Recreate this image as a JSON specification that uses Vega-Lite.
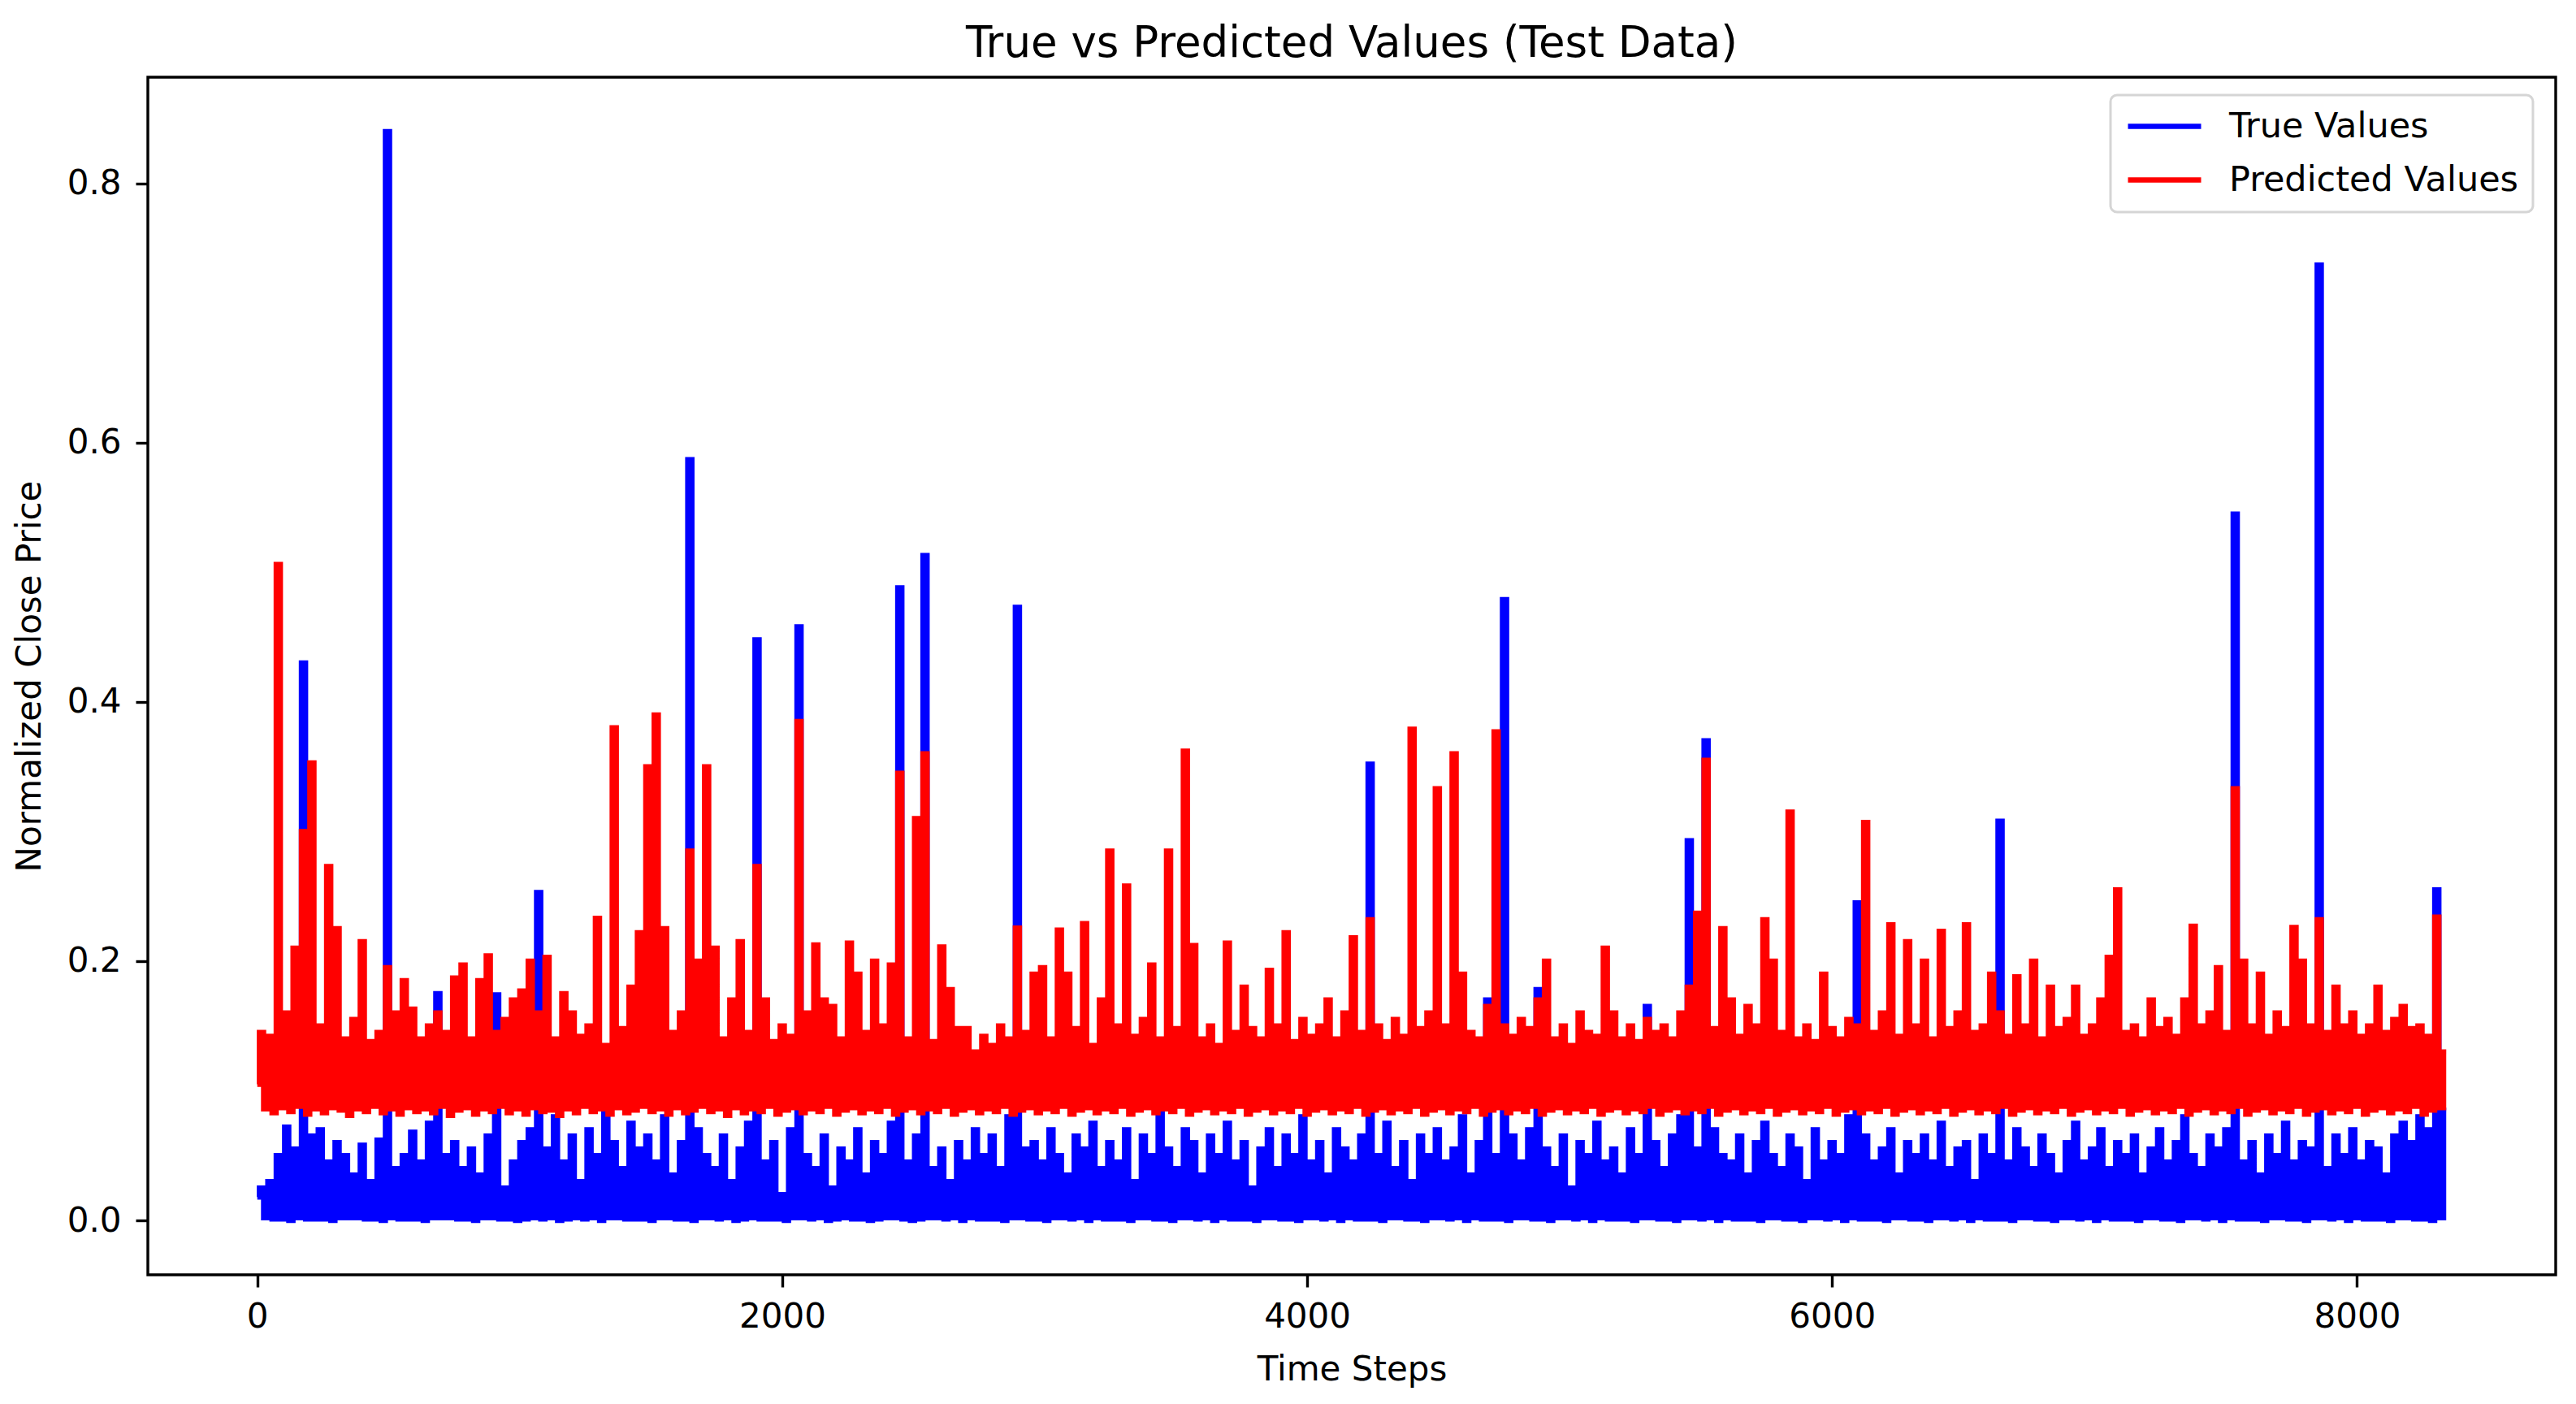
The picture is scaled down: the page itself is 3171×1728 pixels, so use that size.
{
  "$schema": "https://vega.github.io/schema/vega-lite/v6.json",
  "width": 2964,
  "height": 1474,
  "autosize": {"type": "none"},
  "padding": {"left": 182, "top": 95, "right": 25, "bottom": 159},
  "background": "white",
  "config": {
    "font": "DejaVu Sans",
    "view": {"stroke": "black", "strokeWidth": 3.4},
    "legend": {"strokeWidth": 3},
    "axis": {
      "grid": false,
      "domain": false,
      "tickColor": "black",
      "tickWidth": 3.4,
      "tickSize": 15,
      "labelFont": "DejaVu Sans",
      "labelFontSize": 42,
      "labelColor": "black",
      "titleFont": "DejaVu Sans",
      "titleFontSize": 42,
      "titleFontWeight": "normal",
      "titleColor": "black"
    }
  },
  "title": {
    "text": "True vs Predicted Values (Test Data)",
    "font": "DejaVu Sans",
    "fontSize": 53,
    "fontWeight": "normal",
    "color": "black",
    "anchor": "middle",
    "offset": 14
  },
  "data": {
    "values": [
      {"t":0,"a":0.018,"b":0.105},{"t":16,"a":0.025,"b":0.145},
      {"t":32,"a":0.002,"b":0.086},{"t":48,"a":0.03,"b":0.142},
      {"t":64,"a":0.001,"b":0.083},{"t":80,"a":0.05,"b":0.506},
      {"t":96,"a":0.001,"b":0.087},{"t":112,"a":0.072,"b":0.16},
      {"t":128,"a":0.0,"b":0.084},{"t":144,"a":0.055,"b":0.21},
      {"t":160,"a":0.002,"b":0.088},{"t":176,"a":0.43,"b":0.30},
      {"t":192,"a":0.001,"b":0.082},{"t":208,"a":0.065,"b":0.353},
      {"t":224,"a":0.001,"b":0.086},{"t":240,"a":0.07,"b":0.15},
      {"t":256,"a":0.001,"b":0.083},{"t":272,"a":0.045,"b":0.273},
      {"t":288,"a":0.0,"b":0.087},{"t":304,"a":0.06,"b":0.225},
      {"t":320,"a":0.002,"b":0.085},{"t":336,"a":0.05,"b":0.14},
      {"t":352,"a":0.002,"b":0.081},{"t":368,"a":0.035,"b":0.155},
      {"t":384,"a":0.002,"b":0.086},{"t":400,"a":0.058,"b":0.215},
      {"t":416,"a":0.001,"b":0.084},{"t":432,"a":0.03,"b":0.138},
      {"t":448,"a":0.001,"b":0.088},{"t":464,"a":0.062,"b":0.145},
      {"t":480,"a":0.0,"b":0.083},{"t":496,"a":0.84,"b":0.195},
      {"t":512,"a":0.002,"b":0.086},{"t":528,"a":0.04,"b":0.16},
      {"t":544,"a":0.001,"b":0.082},{"t":560,"a":0.05,"b":0.185},
      {"t":576,"a":0.001,"b":0.087},{"t":592,"a":0.068,"b":0.163},
      {"t":608,"a":0.001,"b":0.084},{"t":624,"a":0.045,"b":0.14},
      {"t":640,"a":0.0,"b":0.086},{"t":656,"a":0.075,"b":0.15},
      {"t":672,"a":0.002,"b":0.083},{"t":688,"a":0.175,"b":0.16},
      {"t":704,"a":0.002,"b":0.088},{"t":720,"a":0.05,"b":0.145},
      {"t":736,"a":0.002,"b":0.081},{"t":752,"a":0.06,"b":0.187},
      {"t":768,"a":0.001,"b":0.085},{"t":784,"a":0.04,"b":0.197},
      {"t":800,"a":0.001,"b":0.087},{"t":816,"a":0.055,"b":0.14},
      {"t":832,"a":0.0,"b":0.082},{"t":848,"a":0.035,"b":0.185},
      {"t":864,"a":0.002,"b":0.086},{"t":880,"a":0.065,"b":0.204},
      {"t":896,"a":0.002,"b":0.084},{"t":912,"a":0.174,"b":0.145},
      {"t":928,"a":0.001,"b":0.088},{"t":944,"a":0.025,"b":0.155},
      {"t":960,"a":0.001,"b":0.083},{"t":976,"a":0.045,"b":0.17},
      {"t":992,"a":0.0,"b":0.086},{"t":1008,"a":0.06,"b":0.177},
      {"t":1024,"a":0.001,"b":0.082},{"t":1040,"a":0.07,"b":0.2},
      {"t":1056,"a":0.002,"b":0.087},{"t":1072,"a":0.253,"b":0.16},
      {"t":1088,"a":0.001,"b":0.084},{"t":1104,"a":0.055,"b":0.203},
      {"t":1120,"a":0.002,"b":0.085},{"t":1136,"a":0.08,"b":0.14},
      {"t":1152,"a":0.0,"b":0.081},{"t":1168,"a":0.045,"b":0.175},
      {"t":1184,"a":0.001,"b":0.086},{"t":1200,"a":0.065,"b":0.16},
      {"t":1216,"a":0.002,"b":0.083},{"t":1232,"a":0.03,"b":0.142},
      {"t":1248,"a":0.001,"b":0.088},{"t":1264,"a":0.07,"b":0.15},
      {"t":1280,"a":0.002,"b":0.084},{"t":1296,"a":0.05,"b":0.233},
      {"t":1312,"a":0.0,"b":0.086},{"t":1328,"a":0.085,"b":0.135},
      {"t":1344,"a":0.002,"b":0.082},{"t":1360,"a":0.06,"b":0.38},
      {"t":1376,"a":0.002,"b":0.087},{"t":1392,"a":0.04,"b":0.148},
      {"t":1408,"a":0.001,"b":0.083},{"t":1424,"a":0.075,"b":0.18},
      {"t":1440,"a":0.001,"b":0.085},{"t":1456,"a":0.055,"b":0.222},
      {"t":1472,"a":0.001,"b":0.088},{"t":1488,"a":0.065,"b":0.35},
      {"t":1504,"a":0.0,"b":0.084},{"t":1520,"a":0.045,"b":0.39},
      {"t":1536,"a":0.002,"b":0.086},{"t":1552,"a":0.08,"b":0.225},
      {"t":1568,"a":0.002,"b":0.082},{"t":1584,"a":0.035,"b":0.145},
      {"t":1600,"a":0.001,"b":0.087},{"t":1616,"a":0.06,"b":0.16},
      {"t":1632,"a":0.001,"b":0.083},{"t":1648,"a":0.587,"b":0.285},
      {"t":1664,"a":0.0,"b":0.085},{"t":1680,"a":0.07,"b":0.2},
      {"t":1696,"a":0.002,"b":0.088},{"t":1712,"a":0.05,"b":0.35},
      {"t":1728,"a":0.002,"b":0.084},{"t":1744,"a":0.04,"b":0.21},
      {"t":1760,"a":0.001,"b":0.086},{"t":1776,"a":0.065,"b":0.14},
      {"t":1792,"a":0.002,"b":0.081},{"t":1808,"a":0.03,"b":0.17},
      {"t":1824,"a":0.0,"b":0.087},{"t":1840,"a":0.055,"b":0.215},
      {"t":1856,"a":0.001,"b":0.083},{"t":1872,"a":0.075,"b":0.145},
      {"t":1888,"a":0.002,"b":0.086},{"t":1904,"a":0.448,"b":0.273},
      {"t":1920,"a":0.001,"b":0.084},{"t":1936,"a":0.045,"b":0.17},
      {"t":1952,"a":0.001,"b":0.088},{"t":1968,"a":0.06,"b":0.138},
      {"t":1984,"a":0.001,"b":0.082},{"t":2000,"a":0.02,"b":0.15},
      {"t":2016,"a":0.0,"b":0.085},{"t":2032,"a":0.07,"b":0.142},
      {"t":2048,"a":0.002,"b":0.087},{"t":2064,"a":0.458,"b":0.385},
      {"t":2080,"a":0.002,"b":0.083},{"t":2096,"a":0.05,"b":0.16},
      {"t":2112,"a":0.001,"b":0.086},{"t":2128,"a":0.04,"b":0.2125},
      {"t":2144,"a":0.002,"b":0.084},{"t":2160,"a":0.065,"b":0.17},
      {"t":2176,"a":0.0,"b":0.088},{"t":2192,"a":0.025,"b":0.165},
      {"t":2208,"a":0.001,"b":0.082},{"t":2224,"a":0.055,"b":0.14},
      {"t":2240,"a":0.002,"b":0.085},{"t":2256,"a":0.045,"b":0.214},
      {"t":2272,"a":0.001,"b":0.087},{"t":2288,"a":0.07,"b":0.19},
      {"t":2304,"a":0.001,"b":0.083},{"t":2320,"a":0.035,"b":0.145},
      {"t":2336,"a":0.0,"b":0.086},{"t":2352,"a":0.06,"b":0.2},
      {"t":2368,"a":0.001,"b":0.084},{"t":2384,"a":0.05,"b":0.15},
      {"t":2400,"a":0.002,"b":0.088},{"t":2416,"a":0.075,"b":0.197},
      {"t":2432,"a":0.002,"b":0.082},{"t":2448,"a":0.488,"b":0.345},
      {"t":2464,"a":0.001,"b":0.085},{"t":2480,"a":0.045,"b":0.14},
      {"t":2496,"a":0.0,"b":0.087},{"t":2512,"a":0.065,"b":0.31},
      {"t":2528,"a":0.001,"b":0.083},{"t":2544,"a":0.513,"b":0.36},
      {"t":2560,"a":0.002,"b":0.086},{"t":2576,"a":0.04,"b":0.138},
      {"t":2592,"a":0.002,"b":0.084},{"t":2608,"a":0.055,"b":0.211},
      {"t":2624,"a":0.001,"b":0.088},{"t":2640,"a":0.03,"b":0.178},
      {"t":2656,"a":0.002,"b":0.082},{"t":2672,"a":0.06,"b":0.148},
      {"t":2688,"a":0.0,"b":0.085},{"t":2704,"a":0.045,"b":0.148},
      {"t":2720,"a":0.002,"b":0.087},{"t":2736,"a":0.07,"b":0.13},
      {"t":2752,"a":0.001,"b":0.083},{"t":2768,"a":0.05,"b":0.142},
      {"t":2784,"a":0.001,"b":0.086},{"t":2800,"a":0.065,"b":0.135},
      {"t":2816,"a":0.001,"b":0.084},{"t":2832,"a":0.04,"b":0.15},
      {"t":2848,"a":0.0,"b":0.088},{"t":2864,"a":0.08,"b":0.14},
      {"t":2880,"a":0.002,"b":0.082},{"t":2896,"a":0.473,"b":0.2255},
      {"t":2912,"a":0.002,"b":0.085},{"t":2928,"a":0.055,"b":0.145},
      {"t":2944,"a":0.001,"b":0.087},{"t":2960,"a":0.06,"b":0.19},
      {"t":2976,"a":0.001,"b":0.083},{"t":2992,"a":0.045,"b":0.195},
      {"t":3008,"a":0.0,"b":0.086},{"t":3024,"a":0.07,"b":0.14},
      {"t":3040,"a":0.002,"b":0.084},{"t":3056,"a":0.05,"b":0.224},
      {"t":3072,"a":0.002,"b":0.088},{"t":3088,"a":0.035,"b":0.19},
      {"t":3104,"a":0.001,"b":0.082},{"t":3120,"a":0.065,"b":0.148},
      {"t":3136,"a":0.002,"b":0.085},{"t":3152,"a":0.055,"b":0.229},
      {"t":3168,"a":0.0,"b":0.087},{"t":3184,"a":0.075,"b":0.135},
      {"t":3200,"a":0.002,"b":0.083},{"t":3216,"a":0.04,"b":0.17},
      {"t":3232,"a":0.001,"b":0.086},{"t":3248,"a":0.06,"b":0.285},
      {"t":3264,"a":0.001,"b":0.084},{"t":3280,"a":0.045,"b":0.15},
      {"t":3296,"a":0.001,"b":0.088},{"t":3312,"a":0.07,"b":0.258},
      {"t":3328,"a":0.0,"b":0.082},{"t":3344,"a":0.03,"b":0.142},
      {"t":3360,"a":0.002,"b":0.085},{"t":3376,"a":0.065,"b":0.155},
      {"t":3392,"a":0.002,"b":0.087},{"t":3408,"a":0.05,"b":0.197},
      {"t":3424,"a":0.001,"b":0.083},{"t":3440,"a":0.085,"b":0.14},
      {"t":3456,"a":0.001,"b":0.086},{"t":3472,"a":0.055,"b":0.285},
      {"t":3488,"a":0.0,"b":0.084},{"t":3504,"a":0.04,"b":0.148},
      {"t":3520,"a":0.002,"b":0.088},{"t":3536,"a":0.07,"b":0.362},
      {"t":3552,"a":0.002,"b":0.082},{"t":3568,"a":0.06,"b":0.212},
      {"t":3584,"a":0.001,"b":0.085},{"t":3600,"a":0.035,"b":0.14},
      {"t":3616,"a":0.002,"b":0.087},{"t":3632,"a":0.065,"b":0.15},
      {"t":3648,"a":0.0,"b":0.083},{"t":3664,"a":0.05,"b":0.135},
      {"t":3680,"a":0.002,"b":0.086},{"t":3696,"a":0.075,"b":0.214},
      {"t":3712,"a":0.001,"b":0.084},{"t":3728,"a":0.045,"b":0.145},
      {"t":3744,"a":0.001,"b":0.088},{"t":3760,"a":0.06,"b":0.18},
      {"t":3776,"a":0.001,"b":0.082},{"t":3792,"a":0.025,"b":0.148},
      {"t":3808,"a":0.0,"b":0.085},{"t":3824,"a":0.055,"b":0.14},
      {"t":3840,"a":0.002,"b":0.087},{"t":3856,"a":0.07,"b":0.193},
      {"t":3872,"a":0.002,"b":0.083},{"t":3888,"a":0.04,"b":0.15},
      {"t":3904,"a":0.001,"b":0.086},{"t":3920,"a":0.065,"b":0.222},
      {"t":3936,"a":0.001,"b":0.084},{"t":3952,"a":0.05,"b":0.138},
      {"t":3968,"a":0.0,"b":0.088},{"t":3984,"a":0.08,"b":0.155},
      {"t":4000,"a":0.002,"b":0.082},{"t":4016,"a":0.045,"b":0.142},
      {"t":4032,"a":0.002,"b":0.085},{"t":4048,"a":0.06,"b":0.15},
      {"t":4064,"a":0.001,"b":0.087},{"t":4080,"a":0.035,"b":0.17},
      {"t":4096,"a":0.002,"b":0.083},{"t":4112,"a":0.07,"b":0.14},
      {"t":4128,"a":0.0,"b":0.086},{"t":4144,"a":0.055,"b":0.16},
      {"t":4160,"a":0.002,"b":0.084},{"t":4176,"a":0.045,"b":0.218},
      {"t":4192,"a":0.001,"b":0.088},{"t":4208,"a":0.065,"b":0.145},
      {"t":4224,"a":0.001,"b":0.082},{"t":4240,"a":0.352,"b":0.232},
      {"t":4256,"a":0.001,"b":0.085},{"t":4272,"a":0.05,"b":0.15},
      {"t":4288,"a":0.0,"b":0.087},{"t":4304,"a":0.075,"b":0.138},
      {"t":4320,"a":0.002,"b":0.083},{"t":4336,"a":0.04,"b":0.155},
      {"t":4352,"a":0.002,"b":0.086},{"t":4368,"a":0.06,"b":0.142},
      {"t":4384,"a":0.001,"b":0.084},{"t":4400,"a":0.03,"b":0.379},
      {"t":4416,"a":0.001,"b":0.088},{"t":4432,"a":0.065,"b":0.148},
      {"t":4448,"a":0.0,"b":0.082},{"t":4464,"a":0.05,"b":0.16},
      {"t":4480,"a":0.002,"b":0.085},{"t":4496,"a":0.07,"b":0.333},
      {"t":4512,"a":0.002,"b":0.087},{"t":4528,"a":0.045,"b":0.15},
      {"t":4544,"a":0.001,"b":0.083},{"t":4560,"a":0.055,"b":0.36},
      {"t":4576,"a":0.002,"b":0.086},{"t":4592,"a":0.08,"b":0.19},
      {"t":4608,"a":0.0,"b":0.084},{"t":4624,"a":0.035,"b":0.145},
      {"t":4640,"a":0.002,"b":0.088},{"t":4656,"a":0.06,"b":0.14},
      {"t":4672,"a":0.001,"b":0.082},{"t":4688,"a":0.17,"b":0.165},
      {"t":4704,"a":0.001,"b":0.085},{"t":4720,"a":0.05,"b":0.377},
      {"t":4736,"a":0.001,"b":0.087},{"t":4752,"a":0.479,"b":0.15},
      {"t":4768,"a":0.0,"b":0.083},{"t":4784,"a":0.065,"b":0.142},
      {"t":4800,"a":0.002,"b":0.086},{"t":4816,"a":0.045,"b":0.155},
      {"t":4832,"a":0.002,"b":0.084},{"t":4848,"a":0.07,"b":0.148},
      {"t":4864,"a":0.001,"b":0.088},{"t":4880,"a":0.178,"b":0.17},
      {"t":4896,"a":0.001,"b":0.082},{"t":4912,"a":0.055,"b":0.2},
      {"t":4928,"a":0.0,"b":0.085},{"t":4944,"a":0.04,"b":0.14},
      {"t":4960,"a":0.002,"b":0.087},{"t":4976,"a":0.065,"b":0.15},
      {"t":4992,"a":0.002,"b":0.083},{"t":5008,"a":0.025,"b":0.135},
      {"t":5024,"a":0.001,"b":0.086},{"t":5040,"a":0.06,"b":0.16},
      {"t":5056,"a":0.002,"b":0.084},{"t":5072,"a":0.05,"b":0.145},
      {"t":5088,"a":0.0,"b":0.088},{"t":5104,"a":0.075,"b":0.142},
      {"t":5120,"a":0.002,"b":0.082},{"t":5136,"a":0.045,"b":0.21},
      {"t":5152,"a":0.001,"b":0.085},{"t":5168,"a":0.055,"b":0.16},
      {"t":5184,"a":0.001,"b":0.087},{"t":5200,"a":0.035,"b":0.14},
      {"t":5216,"a":0.001,"b":0.083},{"t":5232,"a":0.07,"b":0.15},
      {"t":5248,"a":0.0,"b":0.086},{"t":5264,"a":0.05,"b":0.138},
      {"t":5280,"a":0.002,"b":0.084},{"t":5296,"a":0.165,"b":0.155},
      {"t":5312,"a":0.002,"b":0.088},{"t":5328,"a":0.06,"b":0.145},
      {"t":5344,"a":0.001,"b":0.082},{"t":5360,"a":0.04,"b":0.15},
      {"t":5376,"a":0.001,"b":0.085},{"t":5392,"a":0.065,"b":0.14},
      {"t":5408,"a":0.0,"b":0.087},{"t":5424,"a":0.08,"b":0.16},
      {"t":5440,"a":0.002,"b":0.083},{"t":5456,"a":0.293,"b":0.18},
      {"t":5472,"a":0.002,"b":0.086},{"t":5488,"a":0.055,"b":0.237},
      {"t":5504,"a":0.001,"b":0.084},{"t":5520,"a":0.37,"b":0.355},
      {"t":5536,"a":0.002,"b":0.088},{"t":5552,"a":0.07,"b":0.148},
      {"t":5568,"a":0.0,"b":0.082},{"t":5584,"a":0.05,"b":0.225},
      {"t":5600,"a":0.002,"b":0.085},{"t":5616,"a":0.045,"b":0.17},
      {"t":5632,"a":0.001,"b":0.087},{"t":5648,"a":0.065,"b":0.142},
      {"t":5664,"a":0.001,"b":0.083},{"t":5680,"a":0.035,"b":0.165},
      {"t":5696,"a":0.001,"b":0.086},{"t":5712,"a":0.06,"b":0.15},
      {"t":5728,"a":0.0,"b":0.084},{"t":5744,"a":0.075,"b":0.232},
      {"t":5760,"a":0.002,"b":0.088},{"t":5776,"a":0.05,"b":0.2},
      {"t":5792,"a":0.002,"b":0.082},{"t":5808,"a":0.04,"b":0.145},
      {"t":5824,"a":0.001,"b":0.085},{"t":5840,"a":0.065,"b":0.315},
      {"t":5856,"a":0.001,"b":0.087},{"t":5872,"a":0.055,"b":0.14},
      {"t":5888,"a":0.0,"b":0.083},{"t":5904,"a":0.03,"b":0.15},
      {"t":5920,"a":0.002,"b":0.086},{"t":5936,"a":0.07,"b":0.138},
      {"t":5952,"a":0.002,"b":0.084},{"t":5968,"a":0.045,"b":0.19},
      {"t":5984,"a":0.001,"b":0.088},{"t":6000,"a":0.06,"b":0.148},
      {"t":6016,"a":0.002,"b":0.082},{"t":6032,"a":0.05,"b":0.14},
      {"t":6048,"a":0.0,"b":0.085},{"t":6064,"a":0.08,"b":0.155},
      {"t":6080,"a":0.002,"b":0.087},{"t":6096,"a":0.245,"b":0.15},
      {"t":6112,"a":0.001,"b":0.083},{"t":6128,"a":0.065,"b":0.307},
      {"t":6144,"a":0.001,"b":0.086},{"t":6160,"a":0.045,"b":0.145},
      {"t":6176,"a":0.001,"b":0.084},{"t":6192,"a":0.055,"b":0.16},
      {"t":6208,"a":0.0,"b":0.088},{"t":6224,"a":0.07,"b":0.228},
      {"t":6240,"a":0.002,"b":0.082},{"t":6256,"a":0.035,"b":0.142},
      {"t":6272,"a":0.002,"b":0.085},{"t":6288,"a":0.06,"b":0.215},
      {"t":6304,"a":0.001,"b":0.087},{"t":6320,"a":0.05,"b":0.15},
      {"t":6336,"a":0.001,"b":0.083},{"t":6352,"a":0.065,"b":0.2},
      {"t":6368,"a":0.0,"b":0.086},{"t":6384,"a":0.045,"b":0.14},
      {"t":6400,"a":0.002,"b":0.084},{"t":6416,"a":0.075,"b":0.223},
      {"t":6432,"a":0.002,"b":0.088},{"t":6448,"a":0.04,"b":0.148},
      {"t":6464,"a":0.001,"b":0.082},{"t":6480,"a":0.055,"b":0.16},
      {"t":6496,"a":0.002,"b":0.085},{"t":6512,"a":0.06,"b":0.228},
      {"t":6528,"a":0.0,"b":0.087},{"t":6544,"a":0.03,"b":0.145},
      {"t":6560,"a":0.002,"b":0.083},{"t":6576,"a":0.065,"b":0.15},
      {"t":6592,"a":0.001,"b":0.086},{"t":6608,"a":0.05,"b":0.19},
      {"t":6624,"a":0.001,"b":0.084},{"t":6640,"a":0.308,"b":0.16},
      {"t":6656,"a":0.001,"b":0.088},{"t":6672,"a":0.045,"b":0.142},
      {"t":6688,"a":0.0,"b":0.082},{"t":6704,"a":0.07,"b":0.188},
      {"t":6720,"a":0.002,"b":0.085},{"t":6736,"a":0.055,"b":0.15},
      {"t":6752,"a":0.002,"b":0.087},{"t":6768,"a":0.04,"b":0.2},
      {"t":6784,"a":0.001,"b":0.083},{"t":6800,"a":0.065,"b":0.14},
      {"t":6816,"a":0.001,"b":0.086},{"t":6832,"a":0.05,"b":0.18},
      {"t":6848,"a":0.0,"b":0.084},{"t":6864,"a":0.035,"b":0.148},
      {"t":6880,"a":0.002,"b":0.088},{"t":6896,"a":0.06,"b":0.155},
      {"t":6912,"a":0.002,"b":0.082},{"t":6928,"a":0.075,"b":0.18},
      {"t":6944,"a":0.001,"b":0.085},{"t":6960,"a":0.045,"b":0.142},
      {"t":6976,"a":0.002,"b":0.087},{"t":6992,"a":0.055,"b":0.15},
      {"t":7008,"a":0.0,"b":0.083},{"t":7024,"a":0.07,"b":0.17},
      {"t":7040,"a":0.002,"b":0.086},{"t":7056,"a":0.04,"b":0.203},
      {"t":7072,"a":0.001,"b":0.084},{"t":7088,"a":0.06,"b":0.255},
      {"t":7104,"a":0.001,"b":0.088},{"t":7120,"a":0.05,"b":0.145},
      {"t":7136,"a":0.001,"b":0.082},{"t":7152,"a":0.065,"b":0.15},
      {"t":7168,"a":0.0,"b":0.085},{"t":7184,"a":0.035,"b":0.14},
      {"t":7200,"a":0.002,"b":0.087},{"t":7216,"a":0.055,"b":0.17},
      {"t":7232,"a":0.002,"b":0.083},{"t":7248,"a":0.07,"b":0.148},
      {"t":7264,"a":0.001,"b":0.086},{"t":7280,"a":0.045,"b":0.155},
      {"t":7296,"a":0.001,"b":0.084},{"t":7312,"a":0.06,"b":0.142},
      {"t":7328,"a":0.0,"b":0.088},{"t":7344,"a":0.08,"b":0.17},
      {"t":7360,"a":0.002,"b":0.082},{"t":7376,"a":0.05,"b":0.227},
      {"t":7392,"a":0.002,"b":0.085},{"t":7408,"a":0.04,"b":0.15},
      {"t":7424,"a":0.001,"b":0.087},{"t":7440,"a":0.065,"b":0.16},
      {"t":7456,"a":0.002,"b":0.083},{"t":7472,"a":0.055,"b":0.195},
      {"t":7488,"a":0.0,"b":0.086},{"t":7504,"a":0.07,"b":0.145},
      {"t":7520,"a":0.002,"b":0.084},{"t":7536,"a":0.545,"b":0.333},
      {"t":7552,"a":0.001,"b":0.088},{"t":7568,"a":0.045,"b":0.2},
      {"t":7584,"a":0.001,"b":0.082},{"t":7600,"a":0.06,"b":0.15},
      {"t":7616,"a":0.001,"b":0.085},{"t":7632,"a":0.035,"b":0.19},
      {"t":7648,"a":0.0,"b":0.087},{"t":7664,"a":0.065,"b":0.142},
      {"t":7680,"a":0.002,"b":0.083},{"t":7696,"a":0.05,"b":0.16},
      {"t":7712,"a":0.002,"b":0.086},{"t":7728,"a":0.075,"b":0.148},
      {"t":7744,"a":0.001,"b":0.084},{"t":7760,"a":0.045,"b":0.226},
      {"t":7776,"a":0.001,"b":0.088},{"t":7792,"a":0.06,"b":0.2},
      {"t":7808,"a":0.0,"b":0.082},{"t":7824,"a":0.055,"b":0.15},
      {"t":7840,"a":0.002,"b":0.085},{"t":7856,"a":0.737,"b":0.232},
      {"t":7872,"a":0.002,"b":0.087},{"t":7888,"a":0.04,"b":0.145},
      {"t":7904,"a":0.001,"b":0.083},{"t":7920,"a":0.065,"b":0.18},
      {"t":7936,"a":0.002,"b":0.086},{"t":7952,"a":0.05,"b":0.15},
      {"t":7968,"a":0.0,"b":0.084},{"t":7984,"a":0.07,"b":0.16},
      {"t":8000,"a":0.002,"b":0.088},{"t":8016,"a":0.045,"b":0.142},
      {"t":8032,"a":0.001,"b":0.082},{"t":8048,"a":0.06,"b":0.15},
      {"t":8064,"a":0.001,"b":0.085},{"t":8080,"a":0.055,"b":0.18},
      {"t":8096,"a":0.001,"b":0.087},{"t":8112,"a":0.035,"b":0.145},
      {"t":8128,"a":0.0,"b":0.083},{"t":8144,"a":0.065,"b":0.155},
      {"t":8160,"a":0.002,"b":0.086},{"t":8176,"a":0.075,"b":0.165},
      {"t":8192,"a":0.002,"b":0.084},{"t":8208,"a":0.06,"b":0.148},
      {"t":8224,"a":0.001,"b":0.088},{"t":8240,"a":0.08,"b":0.15},
      {"t":8256,"a":0.001,"b":0.082},{"t":8272,"a":0.07,"b":0.142},
      {"t":8288,"a":0.0,"b":0.085},{"t":8304,"a":0.255,"b":0.234},
      {"t":8320,"a":0.002,"b":0.087},{"t":8340,"a":0.085,"b":0.13}
    ]
  },
  "encoding": {
    "x": {
      "field": "t",
      "type": "quantitative",
      "title": "Time Steps",
      "scale": {"domain": [-417, 8757], "nice": false, "zero": false},
      "axis": {"values": [0, 2000, 4000, 6000, 8000], "format": "d", "labelPadding": 16, "titlePadding": 24}
    }
  },
  "layer": [
    {
      "mark": {"type": "line", "interpolate": "step", "strokeWidth": 6.4, "strokeJoin": "miter"},
      "encoding": {
        "y": {
          "field": "a",
          "type": "quantitative",
          "title": "Normalized Close Price",
          "scale": {"domain": [-0.042, 0.882], "nice": false, "zero": false},
          "axis": {"values": [0, 0.2, 0.4, 0.6, 0.8], "format": ".1f", "labelPadding": 18, "titlePadding": 24}
        },
        "color": {
          "datum": "True Values",
          "scale": {"domain": ["True Values", "Predicted Values"], "range": ["#0000ff", "#ff0000"]},
          "legend": {
            "title": null,
            "orient": "none",
            "legendX": 2416,
            "legendY": 22,
            "padding": 17,
            "rowPadding": 22,
            "fillColor": "white",
            "strokeColor": "#d5d5d5",
            "cornerRadius": 8,
            "symbolType": "M-1,0H4.294",
            "symbolSize": 1156,
            "symbolStrokeWidth": 6.4,
            "labelFont": "DejaVu Sans",
            "labelFontSize": 43,
            "labelColor": "black",
            "labelLimit": 0,
            "labelOffset": 86
          }
        }
      }
    },
    {
      "mark": {"type": "line", "interpolate": "step", "strokeWidth": 6.4, "strokeJoin": "miter"},
      "encoding": {
        "y": {"field": "b", "type": "quantitative"},
        "color": {"datum": "Predicted Values"}
      }
    }
  ]
}
